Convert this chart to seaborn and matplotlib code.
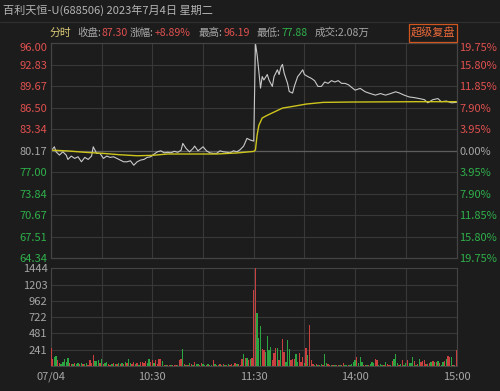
import matplotlib
matplotlib.use("Agg")
import matplotlib.pyplot as plt
from matplotlib.patches import Rectangle
import seaborn as sns

# ---- data ----
prev_close = 80.17
price_labels = ["96.00", "92.83", "89.67", "86.50", "83.34", "80.17",
                "77.00", "73.84", "70.67", "67.51", "64.34"]
pct_labels = ["19.75%", "15.80%", "11.85%", "7.90%", "3.95%", "0.00%",
              "3.95%", "7.90%", "11.85%", "15.80%", "19.75%"]
vol_labels = ["241", "481", "722", "962", "1203", "1444"]
time_labels = ["07/04", "", "10:30", "", "11:30", "", "14:00", "", "15:00"]

# minute index (0 = 9:30, 120 = 11:30/13:00, 240 = 15:00)
price_t = [0, 2, 3, 5, 7, 9, 10, 12, 14, 16, 18, 20, 22, 24, 25, 27, 29, 31, 33, 35,
           37, 39, 41, 43, 45, 47, 49, 51, 53, 55, 57, 59, 61, 63, 65, 67, 69, 71, 73, 75,
           77, 78, 80, 82, 84, 85, 87, 88, 90, 92, 94, 96, 98, 100, 102, 104, 106, 108, 110, 112,
           114, 116, 118, 120, 121, 122, 123, 124, 125, 126, 128, 129, 131, 132, 134, 135, 136, 137, 138, 140,
           141, 143, 144, 146, 147, 149, 150, 152, 154, 156, 158, 160, 162, 164, 166, 168, 170, 172, 174, 176,
           180, 183, 186, 189, 192, 195, 198, 201, 204, 206, 209, 212, 215, 218, 221, 223, 226, 229, 231, 234,
           237, 240]
price = [80.17, 80.76, 80.02, 79.54, 80.02, 79.54, 78.90, 79.39, 79.05, 79.29, 78.55, 79.20, 78.90, 79.39, 80.76, 79.79, 79.79, 79.05, 79.39, 79.20,
         79.29, 79.05, 78.80, 78.55, 78.55, 78.70, 78.05, 78.55, 78.80, 78.90, 79.20, 79.29, 79.68, 80.02, 80.17, 79.87, 79.95, 79.87, 80.10, 79.95,
         80.25, 81.26, 80.50, 80.02, 80.50, 80.86, 80.17, 80.35, 80.76, 80.17, 79.87, 79.79, 79.79, 80.17, 80.02, 79.95, 79.87, 80.17, 80.02, 80.35,
         80.86, 82.00, 81.75, 81.60, 96.00, 94.30, 91.90, 89.40, 91.10, 90.60, 91.40, 90.60, 89.65, 91.10, 92.10, 91.40, 92.45, 92.90, 91.60, 90.10,
         88.90, 88.67, 89.65, 91.10, 91.40, 92.10, 91.40, 91.10, 90.85, 90.50, 89.65, 89.65, 90.30, 90.10, 90.50, 90.30, 90.50, 90.10, 90.10, 89.90,
         89.10, 89.36, 88.86, 88.60, 88.37, 88.60, 88.37, 88.60, 88.86, 88.70, 88.37, 88.10, 88.00, 87.86, 87.70, 87.24, 87.70, 87.86, 87.40, 87.50,
         87.24, 87.30]

avg_t = [0, 10, 20, 31, 40, 51, 60, 69, 80, 98, 110, 120, 121, 122, 123, 125, 128, 132,
         137, 143, 151, 161, 177, 200, 216, 240]
avg_price = [80.27, 80.15, 79.95, 79.79, 79.60, 79.44, 79.50, 79.70, 79.70, 79.70, 79.85, 80.08, 80.30, 82.50, 83.90, 85.00, 85.40, 85.87,
             86.46, 86.70, 87.05, 87.30, 87.35, 87.38, 87.40, 87.40]

volume = [270, 100, 140, 150, 90, 40, 30, 60, 100, 60,
          113, 40, 30, 35, 50, 30, 45, 25, 40, 30,
          35, 50, 20, 90, 40, 160, 80, 70, 85, 40,
          108, 30, 45, 60, 25, 20, 30, 40, 25, 35,
          45, 30, 50, 35, 60, 40, 108, 50, 35, 60,
          30, 45, 20, 55, 60, 40, 70, 50, 100, 60,
          90, 40, 88, 30, 110, 110, 70, 20, 15, 15,
          20, 15, 10, 15, 20, 15, 88, 108, 250, 30,
          15, 20, 40, 25, 15, 60, 30, 25, 20, 40,
          30, 15, 20, 35, 20, 15, 88, 30, 20, 15,
          25, 15, 30, 20, 15, 25, 20, 30, 15, 40,
          25, 30, 20, 100, 170, 120, 125, 90, 110, 125,
          1120, 1444, 785, 410, 585, 255, 235, 200, 440, 240,
          280, 90, 190, 265, 260, 95, 240, 400, 210, 60,
          380, 255, 85, 110, 105, 180, 60, 195, 60, 130,
          40, 265, 165, 610, 90, 30, 20, 25, 15, 20,
          30, 15, 180, 40, 25, 20, 15, 20, 15, 20,
          15, 10, 15, 50, 20, 15, 20, 15, 25, 60,
          90, 135, 40, 135, 60, 20, 15, 20, 15, 25,
          60, 40, 110, 95, 20, 35, 15, 20, 60, 30,
          20, 15, 70, 110, 180, 40, 20, 30, 95, 20,
          40, 95, 50, 40, 130, 70, 20, 30, 110, 55,
          75, 90, 25, 35, 40, 55, 70, 60, 55, 80,
          50, 20, 60, 70, 110, 145, 135, 130, 20, 15,
          235]
# r = up minute (red), g = down minute (green), one row per 10 minutes
vol_dir_rows = ["rrggrrgggg", "grrgrggrgr", "ggrrrrgggr", "grggrrgrgr", "grgrgrggrr",
                "grgrrrrggr", "rgrrrrgrgr", "rgrrrgrrgr", "grgrgrggrr", "ggrgrgrgrg",
                "rgrgrgrrgr", "grrrgrgrgr",
                "rrgggrrggg", "grrrgrgrrg", "ggrrrggrrr", "grgrrrgrgr", "grggrrgrgr",
                "rgrrggrggg", "grgggrrgrg", "ggrrgggrgr", "rgrgggrgrg", "grgggrgrgr",
                "rrrgrgrgrg", "rggrgrrgrg", "r"]
vol_dir = "".join(vol_dir_rows)

# ---- style ----
bg = "#1c1c1c"
grid_c = "#383838"
red = "#e0504f"
green = "#2fb04b"
grey = "#a6a6a6"
bar_red = "#c8403f"
bar_green = "#2ca442"

sns.set_theme(style="dark")
plt.rcParams['font.family'] = ['Noto Sans CJK SC', 'DejaVu Sans']
plt.rcParams['axes.facecolor'] = bg

W, H = 500, 391
fig = plt.figure(figsize=(5, 3.91), dpi=100, facecolor=bg)


def fx(x):
    return x / W


def fy(y):
    return 1 - y / H


ax1 = fig.add_axes([fx(51), fy(258.3), fx(456.5) - fx(51), fy(43.3) - fy(258.3)])
ax2 = fig.add_axes([fx(51), fy(366), fx(456.5) - fx(51), fy(268.3) - fy(366)])

# price panel
levels = [float(v) for v in price_labels]
sns.lineplot(x=price_t, y=price, ax=ax1, color="#c9c9c9", lw=0.8)
sns.lineplot(x=avg_t, y=avg_price, ax=ax1, color="#cdc51c", lw=1.0)
ax1.axhline(prev_close, color="#5e5e5e", lw=0.9, zorder=1)
ax1.set_ylim(levels[-1], levels[0])
ax1.set_xlim(0, 240)
ax1.set_xticks(range(0, 241, 30))
ax1.set_xticklabels([])
ax1.set_yticks(levels)
ax1.set_yticklabels(price_labels)
ax1.set_xlabel("")
ax1.set_ylabel("")

ax1r = ax1.twinx()
ax1r.set_ylim(levels[-1], levels[0])
ax1r.set_yticks(levels)
ax1r.set_yticklabels(pct_labels)
ax1r.grid(False)


def lab_color(i):
    if i < 5:
        return red
    if i == 5:
        return grey
    return green


for ax in (ax1, ax1r):
    labs = ax.get_yticklabels()
    for i, t in enumerate(labs):
        t.set_color(lab_color(i))
        t.set_fontsize(8)
    labs[0].set_va("top")

ax1.tick_params(axis="y", length=0, pad=2.5)
ax1r.tick_params(axis="y", length=0, pad=2)
ax1.tick_params(axis="x", length=0)
ax1.grid(True, color=grid_c, lw=0.8)

# volume panel
bar_cols = [bar_red if c == "r" else bar_green for c in vol_dir]
ax2.bar(range(len(volume)), volume, width=0.8, color=bar_cols, linewidth=0,
        antialiased=False, zorder=3)
ax2.set_xlim(0, 240)
ax2.set_ylim(0, 1444)
ax2.set_yticks([0] + [int(v) for v in vol_labels])
ax2.set_yticklabels([""] + vol_labels, color=grey, fontsize=8)
ax2.set_xticks(range(0, 241, 30))
ax2.set_xticklabels(time_labels, color=grey, fontsize=8)
ax2.tick_params(length=0)
ax2.tick_params(axis="y", pad=2.5)
ax2.tick_params(axis="x", pad=4)
ax2.set_axisbelow(True)
ax2.grid(True, color=grid_c, lw=0.8)

for ax in (ax1, ax1r, ax2):
    for s in ax.spines.values():
        s.set_color("#444444")
        s.set_linewidth(0.8)

# header
fig.add_artist(plt.Line2D([0, 1], [fy(21.5), fy(21.5)], color="#303030", lw=0.8))
fig.text(fx(3), fy(10), "百利天恒-U(688506) 2023年7月4日 星期二", color="#b4b4b4",
         fontsize=8, va="center", ha="left")

fig.text(fx(50), fy(33), "分时", color="#dccb78", fontsize=7.8, va="center", ha="left")
groups = [(77, [("收盘:", grey), ("87.30", red)]),
          (130, [("涨幅:", grey), ("+8.89%", red)]),
          (199, [("最高:", grey), ("96.19", red)]),
          (257, [("最低:", grey), ("77.88", green)]),
          (315, [("成交:2.08万", grey)])]
renderer = fig.canvas.get_renderer()
for x0, parts in groups:
    x = x0
    for s, c in parts:
        t = fig.text(fx(x), fy(33), s, color=c, fontsize=7.6, va="center", ha="left")
        x = t.get_window_extent(renderer).x1 + 0.5

fig.add_artist(Rectangle((fx(409), fy(42)), fx(457) - fx(409), fy(24) - fy(42),
                         transform=fig.transFigure, fill=False, edgecolor="#d0561f", lw=0.9))
fig.text(fx(433), fy(33), "超级复盘", color="#ea6a3a", fontsize=8, va="center", ha="center")

fig.savefig("out.png", dpi=100, facecolor=bg)
